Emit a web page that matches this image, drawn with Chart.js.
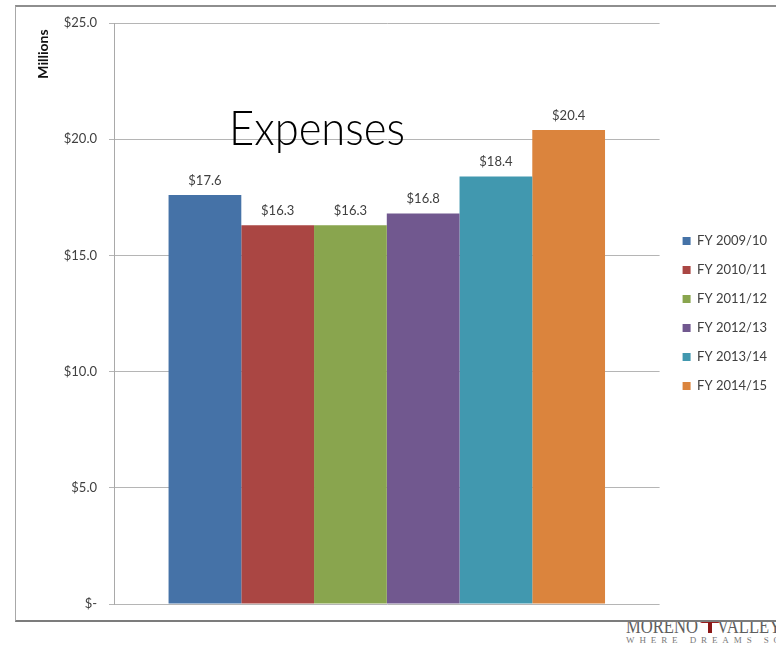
<!DOCTYPE html>
<html>
<head>
<meta charset="utf-8">
<title>Expenses</title>
<script src="https://cdn.jsdelivr.net/npm/chart.js@4/dist/chart.umd.min.js"></script>
<style>
  html, body { margin: 0; padding: 0; background: #fff; overflow: hidden; }
  #page { position: relative; width: 776px; height: 647px; overflow: hidden; }
  #logo { position: absolute; left: 626px; top: 612px; width: 160px; height: 35px; z-index: 1; }
  #logo .word { position: absolute; top: 4px; font-family: "Liberation Serif", serif; font-size: 20px; line-height: 20px;
                color: #5e5e5e; white-space: nowrap; transform: scaleX(0.83); transform-origin: left top; }
  #logo .tree-top { position: absolute; left: 74px; top: 7px; width: 20px; height: 4px; background: #9a1c1c; border-radius: 2px; }
  #logo .tree-trunk { position: absolute; left: 82px; top: 8px; width: 4px; height: 13px; background: #8c1818; }
  #logo .motto { position: absolute; left: 0; top: 23px; font-family: "Liberation Serif", serif; font-size: 9px;
                 color: #7a7a7a; letter-spacing: 4.9px; white-space: nowrap; }
  #frame { position: absolute; left: 15px; top: 5px; width: 800px; height: 613px; background: #fff;
           border-top: 2px solid #8e8e8e; border-left: 1px solid #a8a8a8; border-bottom: 2px solid #7c7c7c; z-index: 2; }
  #chartBox { position: absolute; left: 0; top: 0; z-index: 3; }
</style>
</head>
<body>
<div id="page">
  <div id="logo">
    <span class="word" style="left:0">MORENO</span>
    <div class="tree-top"></div>
    <div class="tree-trunk"></div>
    <span class="word" style="left:91px">VALLEY</span>
    <span class="motto">WHERE DREAMS SOAR</span>
  </div>
  <div id="frame"></div>
  <div id="chartBox"><canvas id="myChart" width="776" height="647"></canvas></div>
</div>
<script>
// fiscal years and spending, in millions of dollars
const fiscalYears = ['FY 2009/10', 'FY 2010/11', 'FY 2011/12', 'FY 2012/13', 'FY 2013/14', 'FY 2014/15'];
const expenses = [17.6, 16.3, 16.3, 16.8, 18.4, 20.4];
const barColors = ['#4572A7', '#AA4643', '#89A54E', '#71588F', '#4198AF', '#DB843D'];
const categories = ['Expenses'];
const yTicks = [0, 5, 10, 15, 20, 25];

const textColor = '#404040';
Chart.defaults.font.family = 'Lato, "Liberation Sans", sans-serif';

function money(v) {
  return v === 0 ? '$-' : '$' + v.toFixed(1);
}

// one dataset per fiscal year so each year gets its own legend entry
const chart_data = {
  labels: categories,
  datasets: fiscalYears.map((fy, i) => ({
    label: fy,
    data: [expenses[i]],
    backgroundColor: barColors[i],
    categoryPercentage: 0.8,
    barPercentage: 1.0
  }))
};

// amount printed above each bar
const valueLabels = {
  id: 'valueLabels',
  afterDatasetsDraw(chart) {
    const ctx = chart.ctx;
    ctx.save();
    ctx.font = '13px Lato, sans-serif';
    ctx.fillStyle = textColor;
    ctx.textAlign = 'center';
    ctx.textBaseline = 'bottom';
    chart.data.datasets.forEach((ds, i) => {
      const bar = chart.getDatasetMeta(i).data[0];
      ctx.fillText(money(ds.data[0]), bar.x, bar.y - 8);
    });
    ctx.restore();
  }
};

// big heading inside the plot and the unit label by the axis
const headline = {
  id: 'headline',
  afterDraw(chart) {
    const ctx = chart.ctx;
    ctx.save();
    ctx.font = '300 48px Lato, sans-serif';
    ctx.fillStyle = '#000';
    ctx.textAlign = 'left';
    ctx.textBaseline = 'alphabetic';
    ctx.fillText('Expenses', 229, 145, 176);

    ctx.translate(43, 54);
    ctx.rotate(-Math.PI / 2);
    ctx.font = 'bold 14px Lato, sans-serif';
    ctx.fillStyle = '#111';
    ctx.textAlign = 'center';
    ctx.textBaseline = 'middle';
    ctx.fillText('Millions', 0, 0);
    ctx.restore();
  }
};

const ctx = document.getElementById('myChart').getContext('2d');
const myChart = new Chart(ctx, {
  type: 'bar',
  data: chart_data,
  plugins: [valueLabels, headline],
  options: {
    responsive: false,
    animation: false,
    layout: {
      padding: { top: 23, bottom: 43, left: 0, right: -1 }
    },
    plugins: {
      tooltip: { enabled: false },
      legend: {
        position: 'right',
        labels: {
          boxWidth: 8,
          boxHeight: 8,
          padding: 16,
          color: textColor,
          font: { size: 13 }
        }
      }
    },
    scales: {
      x: {
        display: false
      },
      y: {
        min: 0,
        max: 25,
        afterBuildTicks(scale) {
          scale.ticks = yTicks.map(v => ({ value: v }));
        },
        afterFit(scale) {
          scale.width = 114;
        },
        ticks: {
          callback: v => money(v),
          color: textColor,
          padding: 12,
          font: { size: 13 }
        },
        grid: {
          color: '#b5b5b5',
          tickLength: 5
        },
        border: { color: '#a9a9a9' }
      },
      // spacer between the plot and the legend
      gap: {
        position: 'right',
        display: true,
        grid: { display: false },
        border: { display: false },
        ticks: { display: false },
        afterFit(scale) {
          scale.width = 7;
        }
      }
    }
  }
});
</script>
</body>
</html>
